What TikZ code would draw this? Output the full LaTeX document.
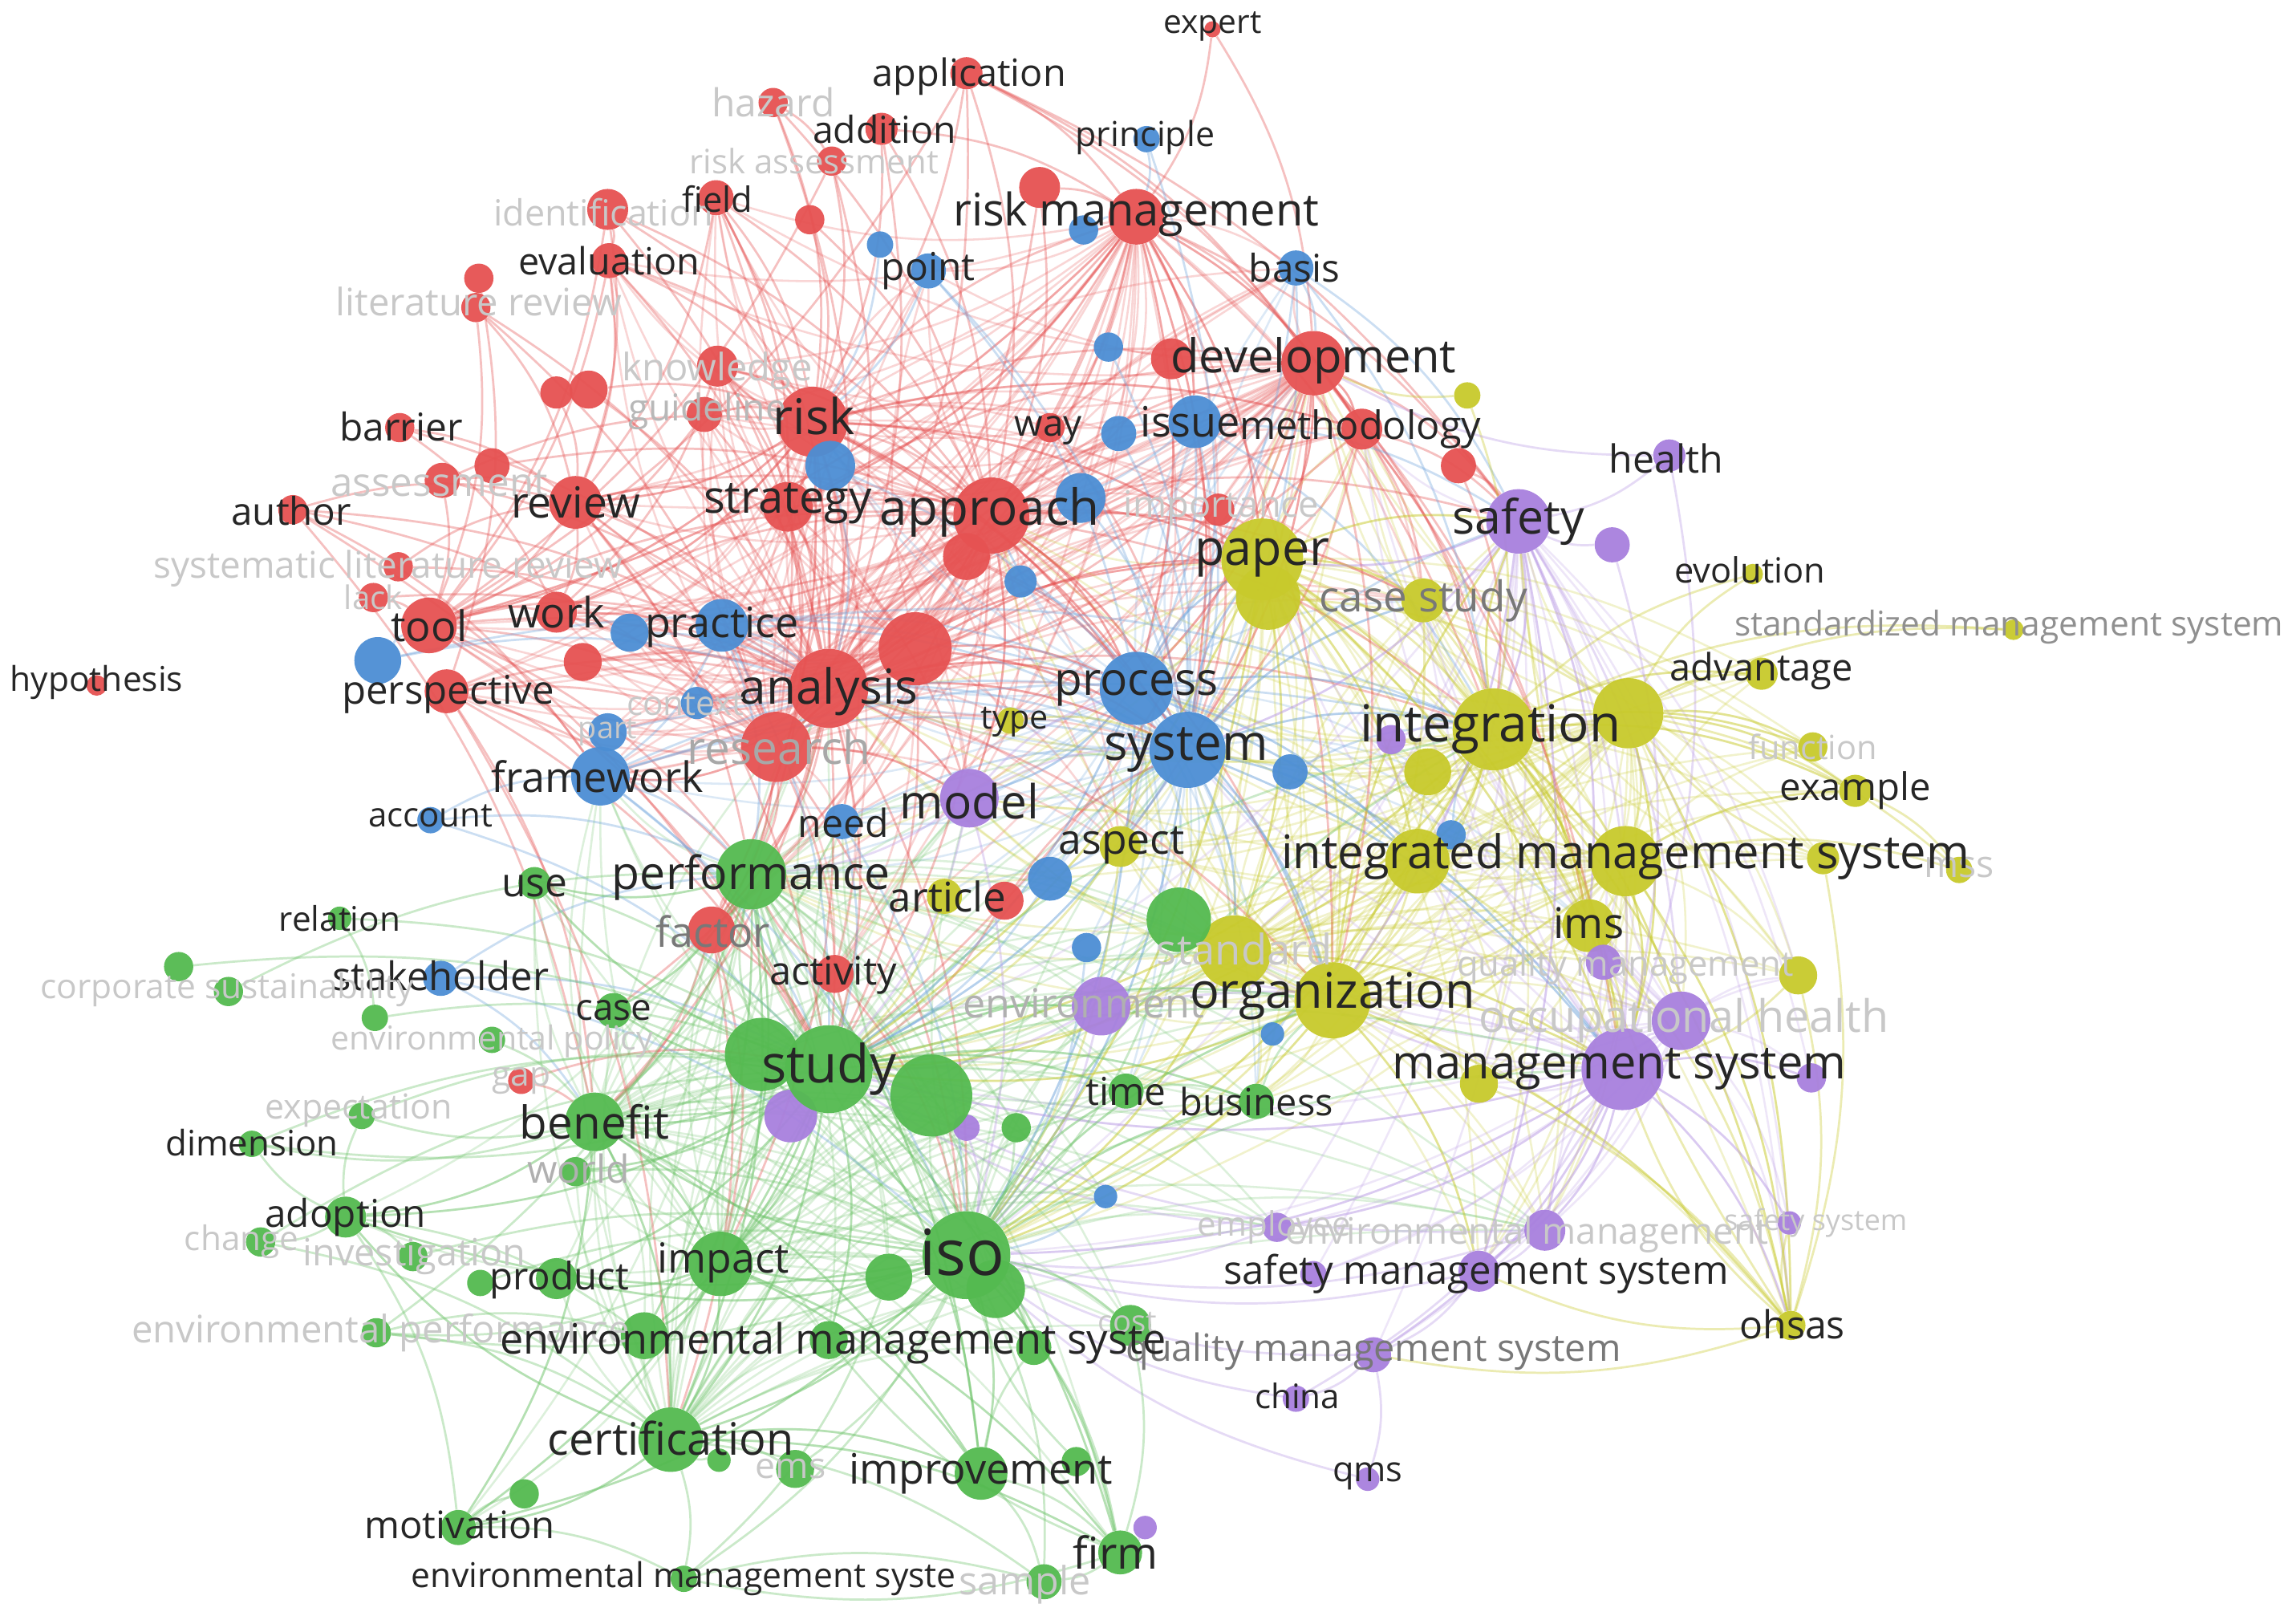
\documentclass[tikz,border=0pt]{standalone}
\usepackage{fontspec}
\setmainfont{Open Sans}
\usepackage{graphicx}
\pgfdeclarelayer{bglayer}
\pgfdeclarelayer{edgelayer}
\pgfsetlayers{bglayer,edgelayer,main}
\definecolor{cR}{RGB}{230,82,82}
\definecolor{cG}{RGB}{84,186,80}
\definecolor{cB}{RGB}{76,142,212}
\definecolor{cY}{RGB}{200,202,44}
\definecolor{cP}{RGB}{168,128,222}
\definecolor{tDark}{RGB}{38,38,38}
\definecolor{tMid}{RGB}{120,120,120}
\definecolor{tFade}{RGB}{200,200,200}
\tikzset{
  bubble/.style={circle,inner sep=0pt,draw=none,fill opacity=0.95},
  lbl/.style={inner sep=0pt,anchor=center},
  edge/.style={line width=1.5pt,opacity=0.36,bend left=14},
  hubedge/.style={line width=1.4pt,opacity=0.24,bend left=14},
}
\newcommand\kb[5]{\node[bubble,fill=#4,minimum size=#5pt] (#1) at (#2,#3) {};}
\newcommand\kl[6]{\node[lbl,text=#6] (#1-l) at (#2,#3) {\resizebox{#4pt}{!}{#5}};}
\begin{document}
\begin{tikzpicture}[x=1pt,y=-1pt]
\begin{pgfonlayer}{bglayer}
\fill[white] (0,0) rectangle (1568,1106);
\end{pgfonlayer}
\useasboundingbox (0,0) rectangle (1568,1106);
% ---------------- red cluster
\kb{expert}{828}{20}{cR}{11}
\kb{appl}{660}{50}{cR}{22}
\kb{hazard}{528}{70}{cR}{20}
\kb{addit}{602}{88}{cR}{22}
\kb{riskass}{568}{110}{cR}{20}
\kb{r6}{553}{150}{cR}{20}
\kb{r7}{710}{128}{cR}{28}
\kb{riskm}{776}{148}{cR}{38}
\kb{field}{489}{135}{cR}{24}
\kb{ident}{415}{143}{cR}{28}
\kb{evalu}{416}{178}{cR}{24}
\kb{litrev}{325}{210}{cR}{20}
\kb{litrevb}{327}{190}{cR}{20}
\kb{knowl}{490}{250}{cR}{28}
\kb{guide}{481}{283}{cR}{24}
\kb{risk}{555}{288}{cR}{48}
\kb{pola}{380}{268}{cR}{22}
\kb{polb}{402}{266}{cR}{26}
\kb{barrier}{273}{292}{cR}{20}
\kb{assessb}{336}{318}{cR}{24}
\kb{assess}{302}{328}{cR}{24}
\kb{author}{200}{348}{cR}{20}
\kb{review}{393}{343}{cR}{36}
\kb{strat}{538}{346}{cR}{34}
\kb{approach}{677}{352}{cR}{52}
\kb{import}{832}{348}{cR}{22}
\kb{develop}{897}{248}{cR}{44}
\kb{rdev}{800}{245}{cR}{28}
\kb{method}{930}{293}{cR}{28}
\kb{way}{717}{292}{cR}{20}
\kb{rmeth}{996}{318}{cR}{24}
\kb{sysrev}{272}{387}{cR}{20}
\kb{lack}{255}{408}{cR}{20}
\kb{tool}{293}{427}{cR}{38}
\kb{work}{380}{418}{cR}{28}
\kb{rwork}{398}{452}{cR}{26}
\kb{persp}{305}{472}{cR}{30}
\kb{hypo}{66}{468}{cR}{14}
\kb{analysis}{566}{470}{cR}{54}
\kb{ranal}{625}{443}{cR}{50}
\kb{research}{530}{510}{cR}{48}
\kb{rappr}{660}{380}{cR}{32}
\kb{factor}{486}{635}{cR}{32}
\kb{activity}{570}{665}{cR}{26}
\kb{artr}{686}{615}{cR}{26}
\kb{gap}{356}{738}{cR}{18}
% ---------------- blue cluster
\kb{princ}{783}{95}{cB}{18}
\kb{ba}{601}{167}{cB}{18}
\kb{point}{634}{185}{cB}{24}
\kb{bb}{740}{157}{cB}{20}
\kb{basis}{885}{183}{cB}{24}
\kb{bc}{757}{237}{cB}{20}
\kb{issue}{816}{288}{cB}{36}
\kb{bd}{764}{296}{cB}{24}
\kb{be}{567}{318}{cB}{34}
\kb{bf}{738}{340}{cB}{34}
\kb{bgg}{697}{397}{cB}{22}
\kb{practice}{493}{427}{cB}{36}
\kb{bh}{430}{432}{cB}{26}
\kb{bi}{258}{451}{cB}{32}
\kb{context}{476}{480}{cB}{22}
\kb{part}{415}{500}{cB}{26}
\kb{framew}{410}{530}{cB}{40}
\kb{process}{776}{470}{cB}{50}
\kb{system}{811}{512}{cB}{52}
\kb{bj}{881}{527}{cB}{24}
\kb{need}{575}{561}{cB}{24}
\kb{account}{294}{560}{cB}{18}
\kb{bk}{717}{600}{cB}{30}
\kb{bl}{742}{647}{cB}{20}
\kb{stake}{301}{668}{cB}{24}
\kb{bm}{869}{706}{cB}{16}
\kb{bn}{755}{817}{cB}{16}
\kb{bo}{991}{570}{cB}{20}
% ---------------- yellow cluster
\kb{paper}{862}{382}{cY}{56}
\kb{paperb}{866}{408}{cY}{44}
\kb{casest}{972}{410}{cY}{30}
\kb{ya}{1002}{270}{cY}{18}
\kb{integ}{1020}{498}{cY}{56}
\kb{integb}{1112}{487}{cY}{48}
\kb{integc}{975}{527}{cY}{32}
\kb{evol}{1197}{392}{cY}{14}
\kb{stdms}{1375}{430}{cY}{14}
\kb{advant}{1203}{460}{cY}{22}
\kb{funct}{1238}{510}{cY}{20}
\kb{exampl}{1267}{540}{cY}{22}
\kb{imsa}{968}{588}{cY}{44}
\kb{imsb}{1110}{588}{cY}{48}
\kb{yb}{1245}{586}{cY}{22}
\kb{mss}{1338}{594}{cY}{18}
\kb{ims}{1085}{632}{cY}{36}
\kb{standard}{843}{650}{cY}{50}
\kb{organ}{910}{683}{cY}{52}
\kb{aspect}{765}{578}{cY}{28}
\kb{type}{690}{492}{cY}{18}
\kb{arty}{645}{612}{cY}{24}
\kb{yc}{1228}{666}{cY}{26}
\kb{yd}{1010}{740}{cY}{26}
\kb{ohsas}{1223}{905}{cY}{20}
% ---------------- purple cluster
\kb{health}{1140}{311}{cP}{22}
\kb{safety}{1037}{356}{cP}{44}
\kb{pa}{1101}{372}{cP}{24}
\kb{pb}{950}{505}{cP}{20}
\kb{model}{662}{545}{cP}{40}
\kb{environ}{752}{687}{cP}{40}
\kb{mgmts}{1108}{730}{cP}{56}
\kb{pc}{1237}{736}{cP}{20}
\kb{pd}{1095}{657}{cP}{24}
\kb{occ}{1148}{697}{cP}{40}
\kb{pe}{540}{762}{cP}{36}
\kb{pf}{660}{770}{cP}{18}
\kb{employee}{872}{838}{cP}{20}
\kb{envm}{1055}{840}{cP}{28}
\kb{safsys}{1222}{835}{cP}{16}
\kb{smsb}{897}{870}{cP}{18}
\kb{sms}{1010}{868}{cP}{28}
\kb{qualms}{938}{925}{cP}{24}
\kb{china}{885}{955}{cP}{18}
\kb{qms}{934}{1010}{cP}{16}
\kb{pg}{782}{1043}{cP}{16}
% ---------------- green cluster
\kb{use}{365}{603}{cG}{22}
\kb{perf}{513}{597}{cG}{48}
\kb{relation}{232}{627}{cG}{16}
\kb{csa}{122}{660}{cG}{20}
\kb{cs}{156}{677}{cG}{20}
\kb{ga}{256}{695}{cG}{18}
\kb{gb}{336}{710}{cG}{18}
\kb{case}{419}{690}{cG}{24}
\kb{studyb}{520}{720}{cG}{50}
\kb{gc}{636}{748}{cG}{56}
\kb{study}{566}{730}{cG}{60}
\kb{expect}{247}{762}{cG}{18}
\kb{dimen}{172}{781}{cG}{18}
\kb{benefit}{406}{766}{cG}{40}
\kb{world}{393}{800}{cG}{20}
\kb{time}{769}{745}{cG}{24}
\kb{business}{858}{752}{cG}{24}
\kb{gd}{694}{770}{cG}{20}
\kb{adopt}{236}{831}{cG}{28}
\kb{change}{178}{848}{cG}{20}
\kb{invest}{282}{858}{cG}{20}
\kb{proda}{328}{876}{cG}{18}
\kb{product}{380}{873}{cG}{28}
\kb{impact}{492}{863}{cG}{44}
\kb{isob}{680}{880}{cG}{40}
\kb{isoc}{607}{872}{cG}{32}
\kb{iso}{660}{857}{cG}{60}
\kb{envperf}{257}{910}{cG}{20}
\kb{emsa}{440}{912}{cG}{32}
\kb{emsc}{566}{915}{cG}{26}
\kb{emsd}{706}{920}{cG}{24}
\kb{cost}{772}{905}{cG}{28}
\kb{certif}{458}{983}{cG}{44}
\kb{ge}{491}{997}{cG}{16}
\kb{ems}{543}{1003}{cG}{26}
\kb{improv}{670}{1006}{cG}{36}
\kb{improvb}{735}{998}{cG}{20}
\kb{motiv}{313}{1043}{cG}{24}
\kb{gf}{358}{1020}{cG}{20}
\kb{emsb}{467}{1078}{cG}{18}
\kb{sample}{713}{1080}{cG}{24}
\kb{firm}{765}{1060}{cG}{30}
\kb{gg}{805}{628}{cG}{44}
% ---------------- edges
\begin{pgfonlayer}{edgelayer}
% hub fans
\foreach \h in {analysis,approach,risk,develop,riskm,research,ranal}
 {\foreach \n in {strat,review,tool,work,persp,framew,practice,method,way,issue,point,basis,field,evalu,knowl,guide,factor,activity,model,casest,import,bd,bf,bgg,rappr,be,type,need,context,part,bh,rwork,aspect,paper,system,process}
   {\draw[hubedge,draw=cR] (\h) to (\n);}}
\foreach \h in {system,process}
 {\foreach \n in {approach,analysis,risk,develop,paper,casest,integ,integc,imsa,organ,standard,aspect,model,need,type,gg,bk,bl,study,iso,perf,mgmts,ims,environ,time,business,arty,artr,framew,practice,issue,basis}
   {\draw[hubedge,draw=cB!80!white] (\h) to (\n);}}
\foreach \h in {integ,organ,paper,imsb,standard,integb}
 {\foreach \n in {system,process,casest,safety,method,develop,imsa,ims,standard,aspect,gg,mgmts,occ,pd,yc,yd,iso,study,time,business,environ,bo,bj,pb,integc,advant,exampl,funct,yb,ohsas,sms,envm,approach,model,analysis,perf}
   {\draw[hubedge,draw=cY] (\h) to (\n);}}
\foreach \h in {study,iso,perf,certif,benefit,impact}
 {\foreach \n in {benefit,impact,certif,improv,emsa,emsc,emsd,cost,product,firm,adopt,motiv,case,use,time,business,gd,gc,gg,pe,pf,standard,organ,environ,model,need,activity,factor,bn,employee,envm,isoc,isob,world,studyb,framew,analysis,system}
   {\draw[hubedge,draw=cG!85!white] (\h) to (\n);}}
\foreach \h in {mgmts,safety,occ}
 {\foreach \n in {organ,ims,imsa,imsb,integ,pd,sms,envm,qualms,standard,study,iso,yd,yc,pc,safsys,employee,smsb,casest,paper,system,ohsas,method}
   {\draw[hubedge,draw=cP!80!white] (\h) to (\n);}}
% specific links
\foreach \a/\b in {expert/riskm, expert/develop, appl/riskm, appl/risk, appl/approach, appl/develop, appl/analysis, appl/method, appl/tool, appl/safety, hazard/risk, hazard/riskass, hazard/analysis, hazard/approach, addit/risk, addit/approach, addit/analysis, addit/riskm, riskass/risk, riskass/analysis, riskass/tool, r6/risk, r6/approach, field/risk, field/analysis, field/review, field/approach, field/research, field/strat, ident/risk, ident/analysis, ident/review, ident/tool, ident/evalu, ident/approach, evalu/analysis, evalu/approach, evalu/risk, evalu/tool, evalu/review, litrev/review, litrev/analysis, litrev/research, litrev/tool, litrevb/persp, knowl/risk, knowl/analysis, knowl/approach, knowl/strat, knowl/work, guide/analysis, guide/risk, guide/tool, risk/riskm, risk/approach, risk/analysis, risk/strat, risk/develop, risk/method, risk/review, risk/tool, risk/work, risk/research, risk/process, risk/system, risk/factor, risk/paper, riskm/approach, riskm/analysis, riskm/develop, riskm/strat, riskm/method, riskm/issue, riskm/process, riskm/system, riskm/paper, riskm/safety, riskm/integ, riskm/research, riskm/organ, riskm/tool, r7/riskm, r7/approach, r7/analysis, barrier/review, barrier/analysis, barrier/work, assess/review, assess/analysis, assess/tool, assess/risk, assessb/approach, author/review, author/analysis, author/study, author/research, author/benefit, review/analysis, review/approach, review/strat, review/research, review/work, review/tool, review/perf, review/study, strat/approach, strat/analysis, strat/research, strat/develop, strat/perf, strat/model, approach/analysis, approach/develop, approach/process, approach/system, approach/paper, approach/research, approach/integ, approach/model, approach/study, approach/organ, approach/safety, approach/case, approach/casest, develop/method, develop/analysis, develop/process, develop/system, develop/paper, develop/integ, develop/safety, develop/mgmts, develop/organ, develop/study, develop/ims, rdev/approach, rdev/system, method/analysis, method/paper, method/system, method/integ, method/safety, method/casest, import/analysis, import/system, import/paper, tool/analysis, tool/work, tool/research, tool/practice, tool/approach, tool/perf, tool/framew, tool/study, work/analysis, work/research, work/approach, rwork/analysis, persp/analysis, persp/research, persp/perf, persp/study, persp/framew, persp/benefit, persp/certif, analysis/research, analysis/process, analysis/system, analysis/model, analysis/perf, analysis/study, analysis/factor, analysis/iso, analysis/organ, analysis/integ, analysis/paper, analysis/impact, analysis/benefit, research/study, research/perf, research/model, research/factor, research/framew, research/iso, factor/perf, factor/study, factor/impact, factor/benefit, factor/certif, activity/study, activity/iso, activity/perf, artr/system, artr/study, ranal/system, ranal/process, ranal/study, ranal/paper, gap/study, gap/benefit, sysrev/review, sysrev/analysis, lack/tool, lack/analysis, rappr/process, rappr/system, polb/risk, polb/analysis, pola/review, way/approach, way/system, rmeth/safety, rmeth/integ, author/framew}
  \draw[edge,draw=cR] (\a) to (\b);
\foreach \a/\b in {princ/riskm, princ/system, ba/risk, point/risk, point/system, point/process, bb/riskm, basis/system, basis/process, basis/safety, basis/integ, basis/develop, bc/system, issue/system, issue/process, issue/approach, issue/integ, issue/safety, bd/system, be/analysis, be/system, bf/system, bgg/process, practice/system, practice/process, practice/analysis, practice/study, practice/perf, practice/framew, practice/integ, bh/analysis, bi/tool, bi/analysis, bi/process, context/system, part/system, framew/system, framew/process, framew/study, framew/perf, framew/iso, framew/integ, process/system, process/integ, process/paper, process/organ, process/mgmts, process/imsa, process/iso, process/study, process/model, system/integ, system/organ, system/mgmts, system/paper, system/imsa, system/iso, system/study, system/standard, system/safety, system/casest, bj/integ, need/study, need/system, need/iso, account/study, account/perf, account/framew, stake/study, stake/perf, stake/benefit, stake/iso, bk/system, bk/study, bl/iso, bm/organ, bn/iso, bo/integ}
  \draw[edge,draw=cB!80!white] (\a) to (\b);
\foreach \a/\b in {paper/integ, paper/organ, paper/imsa, paper/mgmts, paper/safety, paper/casest, paper/study, paper/iso, paper/standard, paper/ims, paperb/integb, casest/integ, casest/organ, casest/mgmts, ya/develop, ya/integ, integ/imsa, integ/imsb, integ/organ, integ/mgmts, integ/standard, integ/ims, integ/safety, integ/study, integ/iso, integ/advant, integ/exampl, integ/funct, integ/evol, integ/stdms, integ/ohsas, integ/occ, integb/advant, integb/funct, integb/exampl, integb/mss, integb/evol, integb/stdms, integb/imsb, integb/mgmts, integb/ohsas, integc/organ, imsb/mss, imsb/ohsas, imsb/exampl, imsb/mgmts, imsb/organ, imsa/organ, imsa/mgmts, imsa/study, imsa/iso, ims/mgmts, ims/ohsas, ims/organ, organ/mgmts, organ/standard, organ/study, organ/iso, organ/safety, organ/sms, organ/ohsas, standard/iso, standard/study, standard/mgmts, aspect/study, aspect/iso, aspect/system, yc/ohsas, yc/mgmts, yd/ohsas, yd/mgmts, yb/ohsas, yb/integb, ohsas/sms, ohsas/qualms, ohsas/mgmts, ohsas/safety, ohsas/safsys, type/system, arty/study, exampl/mss}
  \draw[edge,draw=cY] (\a) to (\b);
\foreach \a/\b in {health/safety, health/develop, health/mgmts, safety/mgmts, safety/integ, safety/occ, safety/ims, safety/system, safety/paper, safety/sms, safety/organ, pa/safety, pa/mgmts, pb/integ, mgmts/occ, mgmts/sms, mgmts/envm, mgmts/qualms, mgmts/iso, mgmts/study, mgmts/ohsas, mgmts/employee, mgmts/china, mgmts/pc, mgmts/safsys, pd/mgmts, model/study, model/system, model/process, model/perf, model/iso, environ/iso, environ/study, environ/organ, environ/mgmts, envm/iso, envm/sms, envm/mgmts, envm/study, sms/qualms, sms/iso, qualms/iso, qualms/china, qualms/qms, china/iso, qms/iso, pg/firm, employee/study, employee/iso, pe/study, pf/iso}
  \draw[edge,draw=cP!80!white] (\a) to (\b);
\foreach \a/\b in {study/iso, study/perf, study/benefit, study/impact, study/certif, study/improv, study/emsa, study/emsc, study/firm, study/adopt, study/product, study/time, study/business, study/case, study/use, study/world, study/dimen, study/motiv, study/environ, study/organ, study/mgmts, study/integ, studyb/perf, studyb/benefit, iso/perf, iso/benefit, iso/impact, iso/certif, iso/improv, iso/emsc, iso/emsd, iso/firm, iso/adopt, iso/product, iso/time, iso/business, iso/motiv, iso/sample, iso/cost, iso/emsb, iso/envperf, iso/organ, iso/mgmts, iso/integ, iso/ems, perf/benefit, perf/impact, perf/certif, perf/use, perf/improv, perf/case, perf/envperf, perf/emsa, benefit/impact, benefit/certif, benefit/adopt, benefit/dimen, benefit/expect, benefit/world, benefit/motiv, benefit/improv, impact/certif, impact/improv, impact/product, impact/emsa, impact/envperf, impact/firm, certif/improv, certif/motiv, certif/firm, certif/emsb, certif/adopt, certif/ems, certif/sample, improv/firm, improv/emsd, improv/sample, adopt/expect, adopt/change, adopt/invest, adopt/motiv, adopt/dimen, adopt/emsa, relation/ga, relation/study, csa/study, cs/perf, ga/study, gb/benefit, motiv/emsb, motiv/gf, firm/emsb, firm/sample, firm/emsc, emsb/sample, envperf/certif, envperf/emsa, invest/iso, change/certif, change/study, proda/iso, gd/iso, gc/iso, gg/iso, gg/study, time/business, business/organ, isob/firm, isoc/emsb, ge/certif, improvb/iso, cost/firm, dimen/study, expect/study, world/iso, use/study, case/iso, gc/perf}
  \draw[edge,draw=cG!85!white] (\a) to (\b);
\end{pgfonlayer}
% ---------------- labels
\kl{expert}{828}{18}{67}{expert}{tDark}
\kl{appl}{662}{52}{132}{application}{tDark}
\kl{hazard}{528}{70}{84}{hazard}{tFade}
\kl{riskass}{556}{110}{170}{risk assessment}{tFade}
\kl{addit}{604}{88}{98}{addition}{tDark}
\kl{riskm}{776}{146}{250}{risk management}{tDark}
\kl{ident}{412}{145}{150}{identification}{tFade}
\kl{field}{490}{136}{48}{field}{tDark}
\kl{evalu}{416}{178}{124}{evaluation}{tDark}
\kl{litrev}{327}{206}{195}{literature review}{tFade}
\kl{knowl}{490}{253}{130}{knowledge}{tFade}
\kl{guide}{483}{281}{108}{guideline}{tFade!80!tMid}
\kl{risk}{556}{284}{56}{risk}{tDark}
\kl{barrier}{274}{291}{84}{barrier}{tDark}
\kl{assess}{300}{330}{148}{assessment}{tFade}
\kl{author}{199}{349}{82}{author}{tDark}
\kl{review}{393}{343}{88}{review}{tDark}
\kl{strat}{538}{344}{115}{strategy}{tDark}
\kl{import}{834}{347}{133}{importance}{tFade}
\kl{approach}{676}{350}{150}{approach}{tDark}
\kl{develop}{897}{246}{195}{development}{tDark}
\kl{method}{929}{293}{165}{methodology}{tDark}
\kl{way}{716}{294}{46}{way}{tDark}
\kl{sysrev}{265}{388}{320}{systematic literature review}{tFade}
\kl{lack}{255}{408}{40}{lack}{tFade}
\kl{tool}{293}{427}{52}{tool}{tDark}
\kl{work}{380}{418}{66}{work}{tDark}
\kl{persp}{306}{474}{145}{perspective}{tDark}
\kl{hypo}{66}{466}{118}{hypothesis}{tDark}
\kl{research}{532}{510}{125}{research}{tFade!60!tMid}
\kl{analysis}{566}{472}{122}{analysis}{tDark}
\kl{factor}{487}{636}{78}{factor}{tMid}
\kl{activity}{569}{666}{87}{activity}{tDark}
\kl{gap}{356}{738}{40}{gap}{tFade}
\kl{princ}{782}{94}{95}{principle}{tDark}
\kl{point}{634}{185}{64}{point}{tDark}
\kl{basis}{884}{183}{62}{basis}{tDark}
\kl{issue}{813}{288}{68}{issue}{tDark}
\kl{practice}{493}{428}{105}{practice}{tDark}
\kl{context}{468}{481}{80}{context}{tFade}
\kl{part}{415}{500}{40}{part}{tFade}
\kl{framew}{408}{530}{145}{framework}{tDark}
\kl{process}{776}{470}{112}{process}{tDark}
\kl{system}{810}{512}{112}{system}{tDark}
\kl{need}{576}{562}{62}{need}{tDark}
\kl{account}{294}{557}{85}{account}{tDark}
\kl{stake}{301}{666}{148}{stakeholder}{tDark}
\kl{paper}{862}{381}{92}{paper}{tDark}
\kl{casest}{972}{410}{142}{case study}{tMid}
\kl{integ}{1018}{498}{178}{integration}{tDark}
\kl{evol}{1195}{389}{103}{evolution}{tDark}
\kl{stdms}{1372}{428}{375}{standardized management system}{tMid!70!tFade}
\kl{advant}{1203}{458}{125}{advantage}{tDark}
\kl{funct}{1238}{510}{88}{function}{tFade}
\kl{exampl}{1267}{540}{103}{example}{tDark}
\kl{mss}{1338}{592}{48}{mss}{tFade}
\kl{imsb}{1110}{585}{470}{integrated management system}{tDark}
\kl{ims}{1085}{630}{48}{ims}{tDark}
\kl{yc}{1110}{660}{230}{quality management}{tFade}
\kl{standard}{850}{648}{120}{standard}{tFade}
\kl{environ}{740}{685}{165}{environment}{tFade!70!tMid}
\kl{organ}{910}{680}{195}{organization}{tDark}
\kl{aspect}{766}{577}{86}{aspect}{tDark}
\kl{type}{693}{493}{46}{type}{tDark}
\kl{arty}{647}{612}{80}{article}{tDark}
\kl{ohsas}{1224}{904}{72}{ohsas}{tDark}
\kl{health}{1138}{313}{78}{health}{tDark}
\kl{safety}{1037}{356}{90}{safety}{tDark}
\kl{model}{662}{547}{95}{model}{tDark}
\kl{occ}{1150}{697}{280}{occupational health}{tFade}
\kl{mgmts}{1106}{730}{310}{management system}{tDark}
\kl{employee}{870}{838}{105}{employee}{tFade}
\kl{envm}{1043}{843}{330}{environmental management}{tFade}
\kl{safsys}{1240}{835}{125}{safety system}{tFade}
\kl{sms}{1008}{870}{345}{safety management system}{tDark}
\kl{qualms}{938}{923}{338}{quality management system}{tMid}
\kl{china}{886}{953}{58}{china}{tDark}
\kl{qms}{934}{1008}{48}{qms}{tDark}
\kl{use}{365}{605}{45}{use}{tDark}
\kl{perf}{513}{599}{190}{performance}{tDark}
\kl{relation}{232}{627}{83}{relation}{tDark}
\kl{cs}{155}{676}{255}{corporate sustainability}{tFade}
\kl{gb}{336}{711}{220}{environmental policy}{tFade}
\kl{case}{419}{690}{52}{case}{tDark}
\kl{study}{566}{730}{92}{study}{tDark}
\kl{expect}{245}{758}{128}{expectation}{tFade}
\kl{dimen}{172}{780}{118}{dimension}{tDark}
\kl{benefit}{406}{766}{102}{benefit}{tDark}
\kl{world}{395}{798}{70}{world}{tFade!70!tMid}
\kl{time}{769}{745}{55}{time}{tDark}
\kl{business}{858}{752}{105}{business}{tDark}
\kl{adopt}{236}{831}{110}{adoption}{tDark}
\kl{change}{165}{848}{78}{change}{tFade}
\kl{invest}{283}{858}{152}{investigation}{tFade}
\kl{product}{382}{874}{95}{product}{tDark}
\kl{impact}{494}{862}{90}{impact}{tDark}
\kl{iso}{657}{855}{58}{iso}{tDark}
\kl{envperf}{260}{910}{340}{environmental performance}{tFade}
\kl{cost}{770}{903}{40}{cost}{tFade}
\kl{emsa}{569}{917}{455}{environmental management syste}{tDark}
\kl{certif}{458}{982}{168}{certification}{tDark}
\kl{ems}{540}{1003}{48}{ems}{tFade}
\kl{improv}{670}{1006}{180}{improvement}{tDark}
\kl{motiv}{314}{1041}{130}{motivation}{tDark}
\kl{sample}{700}{1082}{90}{sample}{tFade}
\kl{emsb}{467}{1078}{372}{environmental management syste}{tDark}
\kl{firm}{762}{1060}{58}{firm}{tDark}
\end{tikzpicture}
\end{document}
